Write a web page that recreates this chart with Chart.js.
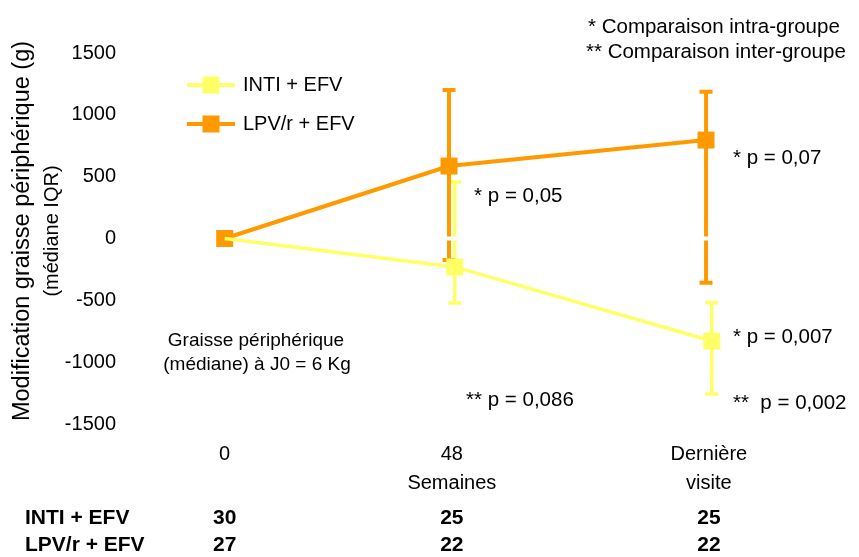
<!DOCTYPE html>
<html lang="fr">
<head>
<meta charset="utf-8">
<title>Modification graisse périphérique</title>
<script src="https://cdn.jsdelivr.net/npm/chart.js@4.4.1/dist/chart.umd.min.js"></script>
<style>
  html, body { margin: 0; padding: 0; background: #fff; }
  #cadre { position: relative; width: 859px; height: 557px; }
</style>
</head>
<body>
<div id="cadre"><canvas id="graisse"></canvas></div>
<script>
// Données
var semaines = [0, 48, 102.3];
var xLabels = [["0"], ["48", "Semaines"], ["Dernière", "visite"]];
var groupes = ["INTI + EFV", "LPV/r + EFV"];
var couleurs = ["#ffff66", "#ff9900"];
// médiane et IQR (g)
var intiMediane = [0, -230, -829];
var intiQ1 = [null, -521, -1257];
var intiQ3 = [null, 457, -519];
var lpvMediane = [0, 586, 796];
var lpvQ1 = [null, -174, -357];
var lpvQ3 = [null, 1200, 1187];
// effectifs sous le graphique
var effectifsInti = [30, 25, 25];
var effectifsLpv = [27, 22, 22];
var decalage = [0.6, -0.6]; // petit écart horizontal entre les groupes (semaines)
var notes = [
    { texte: "* p = 0,05", x: 52.7, y: 344 },
    { texte: "* p = 0,07", x: 107.4, y: 651 },
    { texte: "* p = 0,007", x: 107.4, y: -796 },
    { texte: "**  p = 0,002", x: 107.4, y: -1330 },
    { texte: "** p = 0,086", x: 51, y: -1306 }
];
var noteJ0 = ["Graisse périphérique", "(médiane) à J0 = 6 Kg"];
var legendeHaut = ["* Comparaison intra-groupe", "** Comparaison inter-groupe"];

var police = "'Liberation Sans', Arial, sans-serif";

function points(mediane, d) {
    return semaines.map(function (s, i) {
        return { x: i === 0 ? s : s + d, y: mediane[i] };
    });
}

// Barres d'erreur, légende et textes dessinés à la main
var habillage = {
    id: "habillage",
    beforeDatasetsDraw: function (chart) {
        var ctx = chart.ctx;
        var y = chart.scales.y;
        ctx.save();
        chart.data.datasets.forEach(function (ds, i) {
            var meta = chart.getDatasetMeta(i);
            ctx.strokeStyle = ds.borderColor;
            ctx.lineWidth = ds.barreEpaisseur;
            ds.q1.forEach(function (v, j) {
                if (v === null) return;
                var px = meta.data[j].x;
                var haut = y.getPixelForValue(ds.q3[j]);
                var bas = y.getPixelForValue(v);
                ctx.beginPath();
                ctx.moveTo(px, haut); ctx.lineTo(px, bas);
                ctx.moveTo(px - 6.5, haut); ctx.lineTo(px + 6.5, haut);
                ctx.moveTo(px - 6.5, bas); ctx.lineTo(px + 6.5, bas);
                ctx.stroke();
            });
        });
        // ligne du zéro en blanc (coupe les barres)
        var y0 = y.getPixelForValue(0);
        ctx.strokeStyle = "#ffffff";
        ctx.lineWidth = 4;
        ctx.beginPath();
        ctx.moveTo(chart.chartArea.left, y0);
        ctx.lineTo(chart.chartArea.right, y0);
        ctx.stroke();
        ctx.restore();
    },
    afterDraw: function (chart) {
        var ctx = chart.ctx;
        var xs = chart.scales.x, ys = chart.scales.y;
        ctx.save();
        ctx.fillStyle = "#000";
        ctx.textBaseline = "middle";

        // légende
        chart.data.datasets.forEach(function (ds, i) {
            var ly = [85, 124][i];
            ctx.strokeStyle = ds.borderColor;
            ctx.lineWidth = 4;
            ctx.beginPath();
            ctx.moveTo(187, ly); ctx.lineTo(235, ly);
            ctx.stroke();
            ctx.fillStyle = ds.borderColor;
            ctx.fillRect(211 - 8.5, ly - 8.5, 17, 17);
            ctx.fillStyle = "#000";
            ctx.font = "20px " + police;
            ctx.textAlign = "left";
            ctx.fillText(ds.label, 243, ly);
        });

        // comparaisons en haut à droite
        ctx.font = "20.5px " + police;
        ctx.fillText(legendeHaut[0], 588, 27);
        ctx.fillText(legendeHaut[1], 586, 52);

        // valeurs de p
        ctx.font = "20.5px " + police;
        notes.forEach(function (n) {
            ctx.fillText(n.texte, xs.getPixelForValue(n.x), ys.getPixelForValue(n.y));
        });

        // note J0
        ctx.font = "19px " + police;
        ctx.textAlign = "center";
        ctx.fillText(noteJ0[0], 256, 341);
        ctx.fillText(noteJ0[1], 257, 365);

        // titre de l'axe Y
        ctx.save();
        ctx.translate(23, 231);
        ctx.rotate(-Math.PI / 2);
        ctx.font = "23.5px " + police;
        ctx.fillText("Modification graisse périphérique (g)", 0, 0);
        ctx.restore();
        ctx.save();
        ctx.translate(52, 231);
        ctx.rotate(-Math.PI / 2);
        ctx.font = "20px " + police;
        ctx.fillText("(médiane IQR)", 0, 0);
        ctx.restore();

        // tableau des effectifs
        ctx.font = "bold 21px " + police;
        ctx.textAlign = "left";
        ctx.fillText(groupes[0], 25, 518);
        ctx.fillText(groupes[1], 25, 545);
        ctx.textAlign = "center";
        semaines.forEach(function (s, j) {
            var px = xs.getPixelForValue(s);
            ctx.fillText(String(effectifsInti[j]), px, 518);
            ctx.fillText(String(effectifsLpv[j]), px, 545);
        });
        ctx.restore();
    }
};

var ctx = document.getElementById("graisse").getContext("2d");
var graphique = new Chart(ctx, {
    type: "line",
    data: {
        datasets: [{
            label: groupes[0],
            data: points(intiMediane, decalage[0]),
            q1: intiQ1,
            q3: intiQ3,
            order: 0,
            borderColor: couleurs[0],
            backgroundColor: couleurs[0],
            borderWidth: 3.5,
            barreEpaisseur: 3.5,
            pointStyle: "rect",
            pointRadius: [0, 12, 12],
            pointBorderWidth: 0
        }, {
            label: groupes[1],
            data: points(lpvMediane, decalage[1]),
            q1: lpvQ1,
            q3: lpvQ3,
            order: 1,
            borderColor: couleurs[1],
            backgroundColor: couleurs[1],
            borderWidth: 4,
            barreEpaisseur: 4,
            pointStyle: "rect",
            pointRadius: 12,
            pointBorderWidth: 0
        }]
    },
    options: {
        responsive: true,
        maintainAspectRatio: false,
        animation: false,
        layout: { padding: { top: 53, right: 19, left: 0, bottom: 0 } },
        plugins: {
            legend: { display: false },
            tooltip: { enabled: false }
        },
        scales: {
            x: {
                type: "linear",
                min: -20,
                max: 130,
                grid: { display: false },
                border: { display: false },
                afterBuildTicks: function (scale) {
                    scale.ticks = semaines.map(function (s) { return { value: s }; });
                },
                afterFit: function (scale) { scale.height = 133; },
                ticks: {
                    autoSkip: false,
                    maxRotation: 0,
                    padding: 8,
                    color: "#000",
                    font: { family: police, size: 20, lineHeight: 1.45 },
                    callback: function (value) {
                        return xLabels[semaines.indexOf(value)];
                    }
                }
            },
            y: {
                min: -1500,
                max: 1500,
                grid: { display: false },
                border: { display: false },
                afterFit: function (scale) { scale.width = 130; },
                ticks: {
                    stepSize: 500,
                    padding: 6,
                    color: "#000",
                    font: { family: police, size: 20 },
                    callback: function (value) { return String(value); }
                }
            }
        }
    },
    plugins: [habillage]
});
</script>
</body>
</html>
